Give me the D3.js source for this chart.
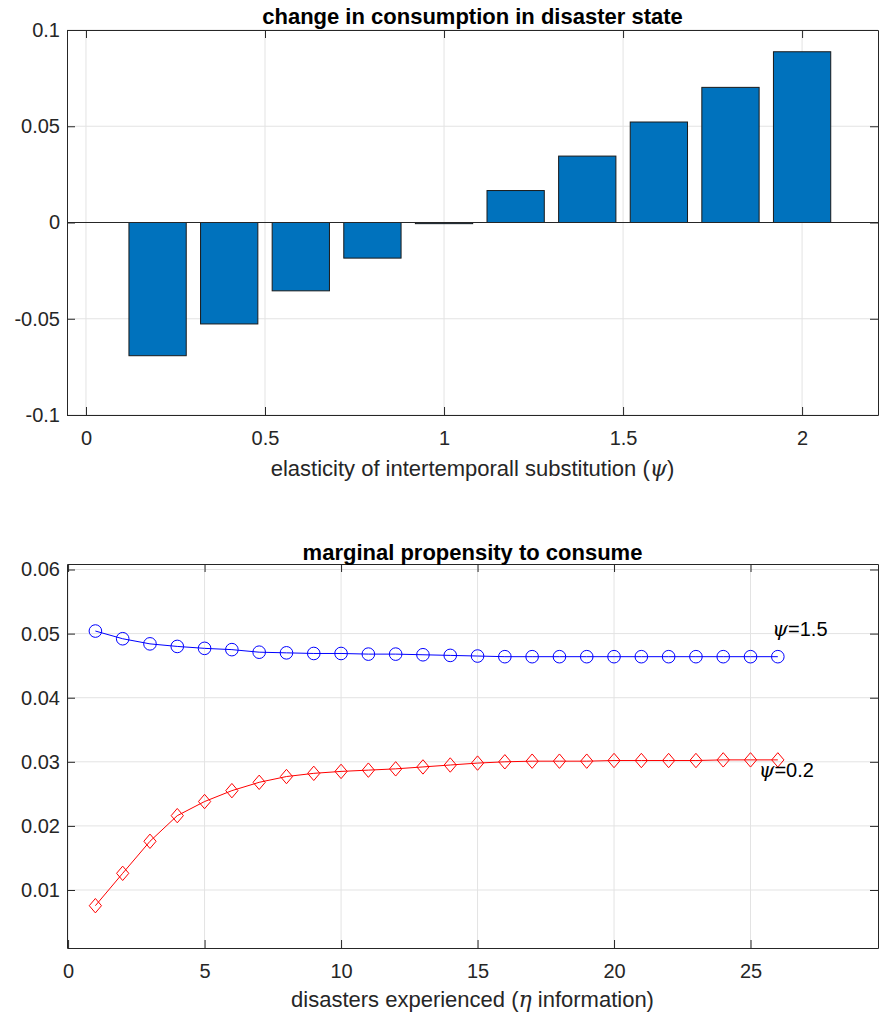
<!DOCTYPE html>
<html>
<head>
<meta charset="utf-8">
<script src="https://cdn.jsdelivr.net/npm/d3@7"></script>
<style>
  html, body { margin: 0; padding: 0; background: #fff; }
  svg { display: block; font-family: "Liberation Sans", Arial, Helvetica, sans-serif; }
</style>
</head>
<body>
<svg id="chart" width="880" height="1014"></svg>
<script>
// ---------- data ----------
const psiValues = [0.2, 0.4, 0.6, 0.8, 1.0, 1.2, 1.4, 1.6, 1.8, 2.0];
const consumptionChange = [-0.0692, -0.0527, -0.0355, -0.0185, -0.0006, 0.0166, 0.0345, 0.0522, 0.0702, 0.0887];
const topXTicks = [0, 0.5, 1, 1.5, 2];
const topYTicks = [-0.1, -0.05, 0, 0.05, 0.1];
const topYTickLabels = ["-0.1", "-0.05", "0", "0.05", "0.1"];

const disasters = [1,2,3,4,5,6,7,8,9,10,11,12,13,14,15,16,17,18,19,20,21,22,23,24,25,26];
const mpcPsi15 = [0.0504, 0.0492, 0.0484, 0.0480, 0.0477, 0.0475, 0.0471, 0.0470, 0.0469, 0.0469, 0.0468, 0.0468, 0.0467, 0.0466, 0.0465, 0.0464, 0.0464, 0.0464, 0.0464, 0.0464, 0.0464, 0.0464, 0.0464, 0.0464, 0.0464, 0.0464];
const mpcPsi02 = [0.00755, 0.0126, 0.0176, 0.0216, 0.0238, 0.0255, 0.0268, 0.0277, 0.0282, 0.0285, 0.0287, 0.0289, 0.0292, 0.0295, 0.0298, 0.0300, 0.0301, 0.0301, 0.0301, 0.0302, 0.0302, 0.0302, 0.0302, 0.0303, 0.0303, 0.0303];
const botXTicks = [0, 5, 10, 15, 20, 25];
const botYTicks = [0.01, 0.02, 0.03, 0.04, 0.05, 0.06];
const botYTickLabels = ["0.01", "0.02", "0.03", "0.04", "0.05", "0.06"];

const seriesLabels = [
  { psi: "1.5", x: 25.8, y: 0.0497 },
  { psi: "0.2", x: 25.3, y: 0.02766 }
];

// ---------- styles ----------
const AX = "#262626";
const GRID = "#e3e3e3";
const FS = 20;
const LFS = 22;
const TICK = 8;

const svg = d3.select("#chart");

function drawGrid(g, x, y, xTicks, yTicks) {
  const [x0, x1] = x.range();
  const [y1, y0] = y.range();
  g.append("g").selectAll("line").data(xTicks).join("line")
    .attr("x1", d => x(d)).attr("x2", d => x(d))
    .attr("y1", y0).attr("y2", y1)
    .attr("stroke", GRID).attr("stroke-width", 1);
  g.append("g").selectAll("line").data(yTicks).join("line")
    .attr("x1", x0).attr("x2", x1)
    .attr("y1", d => y(d)).attr("y2", d => y(d))
    .attr("stroke", GRID).attr("stroke-width", 1);
}

function drawAxes(g, x, y, xTicks, yTicks, yLabels) {
  const [x0, x1] = x.range();
  const [y1, y0] = y.range();
  const bottomAxis = d3.axisBottom(x).tickValues(xTicks).tickSizeInner(-TICK).tickSizeOuter(0)
    .tickPadding(16).tickFormat(d3.format(""));
  const topAxis = d3.axisTop(x).tickValues(xTicks).tickSizeInner(-TICK).tickSizeOuter(0).tickFormat("");
  const leftAxis = d3.axisLeft(y).tickValues(yTicks).tickSizeInner(-TICK).tickSizeOuter(0)
    .tickPadding(7).tickFormat((d, i) => yLabels[i]);
  const rightAxis = d3.axisRight(y).tickValues(yTicks).tickSizeInner(-TICK).tickSizeOuter(0).tickFormat("");

  const gb = g.append("g").attr("transform", `translate(0,${y1})`).call(bottomAxis);
  const gt = g.append("g").attr("transform", `translate(0,${y0})`).call(topAxis);
  const gl = g.append("g").attr("transform", `translate(${x0},0)`).call(leftAxis);
  const gr = g.append("g").attr("transform", `translate(${x1},0)`).call(rightAxis);
  [gb, gt, gl, gr].forEach(a => {
    a.selectAll("path.domain").attr("stroke", AX).attr("stroke-width", 1);
    a.selectAll(".tick line").attr("stroke", AX).attr("stroke-width", 1);
    a.selectAll(".tick text").attr("fill", AX).attr("font-size", FS)
      .attr("font-family", "'Liberation Sans', Arial, Helvetica, sans-serif");
  });
}

// ---------- top chart ----------
{
  const x = d3.scaleLinear().domain([-0.053, 2.212]).range([67, 878]);
  const y = d3.scaleLinear().domain([-0.1, 0.1]).range([415, 30]);
  const g = svg.append("g");
  drawGrid(g, x, y, topXTicks, topYTicks);

  const bw = 0.16;
  g.append("g").selectAll("rect").data(psiValues).join("rect")
    .attr("x", (d) => x(d - bw / 2))
    .attr("width", (d) => x(d + bw / 2) - x(d - bw / 2))
    .attr("y", (d, i) => y(Math.max(0, consumptionChange[i])))
    .attr("height", (d, i) => Math.max(1, Math.abs(y(consumptionChange[i]) - y(0))))
    .attr("fill", "#0072BD")
    .attr("stroke", "#1a1a1a")
    .attr("stroke-width", 1);
  g.append("line").attr("x1", x.range()[0]).attr("x2", x.range()[1])
    .attr("y1", y(0)).attr("y2", y(0)).attr("stroke", AX).attr("stroke-width", 1);

  drawAxes(g, x, y, topXTicks, topYTicks, topYTickLabels);

  g.append("text").attr("x", 472.5).attr("y", 24).attr("text-anchor", "middle")
    .attr("font-size", 22).attr("font-weight", "bold").attr("fill", "#000")
    .text("change in consumption in disaster state");
  const xl = g.append("text").attr("x", 472.5).attr("y", 476).attr("text-anchor", "middle")
    .attr("font-size", LFS).attr("fill", AX);
  xl.append("tspan").text("elasticity of intertemporall substitution (");
  xl.append("tspan").attr("font-family", "'DejaVu Serif', serif").attr("font-style", "italic").text("ψ");
  xl.append("tspan").text(")");
}

// ---------- bottom chart ----------
{
  const x = d3.scaleLinear().domain([-0.04, 29.67]).range([67, 878]);
  const y = d3.scaleLinear().domain([0.00095, 0.06086]).range([948, 564]);
  const g = svg.append("g");
  drawGrid(g, x, y, botXTicks, botYTicks);

  const line = d3.line().x((d, i) => x(disasters[i])).y(d => y(d));

  g.append("path").datum(mpcPsi15).attr("d", line)
    .attr("fill", "none").attr("stroke", "#0000ff").attr("stroke-width", 1);
  g.append("g").selectAll("circle").data(mpcPsi15).join("circle")
    .attr("cx", (d, i) => x(disasters[i])).attr("cy", d => y(d)).attr("r", 6.3)
    .attr("fill", "none").attr("stroke", "#0000ff").attr("stroke-width", 1);

  g.append("path").datum(mpcPsi02).attr("d", line)
    .attr("fill", "none").attr("stroke", "#ff0000").attr("stroke-width", 1);
  const ds = 7.2;
  g.append("g").selectAll("path.dm").data(mpcPsi02).join("path")
    .attr("class", "dm")
    .attr("d", (d, i) => {
      const cx = x(disasters[i]), cy = y(d);
      return `M${cx},${cy - ds}L${cx + ds * 0.85},${cy}L${cx},${cy + ds}L${cx - ds * 0.85},${cy}Z`;
    })
    .attr("fill", "none").attr("stroke", "#ff0000").attr("stroke-width", 1);

  drawAxes(g, x, y, botXTicks, botYTicks, botYTickLabels);

  seriesLabels.forEach(l => {
    const t = g.append("text").attr("x", x(l.x)).attr("y", y(l.y))
      .attr("font-size", FS).attr("fill", "#000");
    t.append("tspan").attr("font-family", "'DejaVu Serif', serif").attr("font-style", "italic").text("ψ");
    t.append("tspan").text("=" + l.psi);
  });

  g.append("text").attr("x", 472.5).attr("y", 560).attr("text-anchor", "middle")
    .attr("font-size", 22).attr("font-weight", "bold").attr("fill", "#000")
    .text("marginal propensity to consume");
  const xl = g.append("text").attr("x", 472.5).attr("y", 1007).attr("text-anchor", "middle")
    .attr("font-size", LFS).attr("fill", AX);
  xl.append("tspan").text("disasters experienced (");
  xl.append("tspan").attr("font-family", "'DejaVu Serif', serif").attr("font-style", "italic").text("η");
  xl.append("tspan").text(" information)");
}
</script>
</body>
</html>
